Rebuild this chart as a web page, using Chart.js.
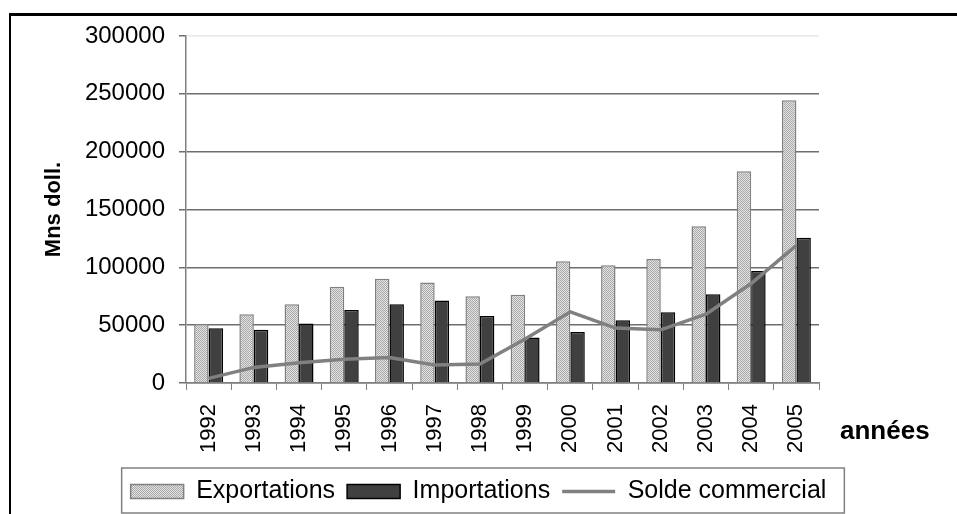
<!DOCTYPE html>
<html>
<head>
<meta charset="utf-8">
<script src="https://cdn.jsdelivr.net/npm/chart.js@4.4.0/dist/chart.umd.min.js"></script>
<style>
  html, body { margin: 0; padding: 0; background: #fff; }
  #wrap { position: relative; width: 957px; height: 514px; overflow: hidden; }
  #frame { position: absolute; left: 9px; top: 13px; width: 960px; height: 520px;
           border-left: 2px solid #000; border-top: 3px solid #000; }
  canvas { position: absolute; left: 0; top: 0; }
</style>
</head>
<body>
<div id="wrap">
  <div id="frame"></div>
  <canvas id="chart" width="957" height="514"></canvas>
</div>
<script>
// Échanges extérieurs, en millions de dollars
const annees = ['1992', '1993', '1994', '1995', '1996', '1997', '1998', '1999', '2000', '2001', '2002', '2003', '2004', '2005'];
const exportations = [51000, 59500, 68000, 83300, 90200, 86800, 75000, 76400, 105200, 101700, 107200, 135600, 183000, 244500];
const importations = [47400, 46000, 51400, 63200, 68100, 71300, 58000, 39400, 44200, 54300, 61200, 76700, 96800, 125600];
const soldeCommercial = [4000, 13500, 17500, 20500, 22000, 15500, 16500, 38000, 61500, 47500, 46000, 59500, 86000, 119000];
const yTicks = [0, 50000, 100000, 150000, 200000, 250000, 300000];

const FONT = "'Liberation Sans', Arial, sans-serif";

// dotted light grey fill, like the old spreadsheet pattern
function makeDots() {
  const c = document.createElement('canvas');
  c.width = 2; c.height = 2;
  const g = c.getContext('2d');
  g.fillStyle = '#e4e4e4';
  g.fillRect(0, 0, 2, 2);
  g.fillStyle = '#a8a8a8';
  g.fillRect(0, 0, 1, 1);
  g.fillRect(1, 1, 1, 1);
  return g.createPattern(c, 'repeat');
}

// frame round the legend
const legendBox = {
  id: 'legendBox',
  afterDraw(chart) {
    const lg = chart.legend;
    if (!lg || !lg.legendHitBoxes.length) return;
    const boxes = lg.legendHitBoxes;
    const first = boxes[0], last = boxes[boxes.length - 1];
    const ctx = chart.ctx;
    ctx.save();
    ctx.strokeStyle = '#808080';
    ctx.lineWidth = 1.5;
    ctx.strokeRect(first.left - 9, lg.top + 1, last.left + last.width + 18 - (first.left - 9), 512 - lg.top);
    ctx.restore();
  }
};

// x axis name sits to the right of the year labels
const xTitle = {
  id: 'xTitle',
  afterDraw(chart) {
    const ctx = chart.ctx;
    ctx.save();
    ctx.font = 'bold 26px ' + FONT;
    ctx.fillStyle = '#000';
    ctx.textAlign = 'left';
    ctx.textBaseline = 'middle';
    ctx.fillText('années', 840, 432);
    ctx.restore();
  }
};

new Chart(document.getElementById('chart'), {
  type: 'bar',
  data: {
    labels: annees,
    datasets: [
      {
        label: 'Exportations',
        data: exportations,
        backgroundColor: makeDots(),
        borderColor: '#808080',
        borderWidth: 1.5,
        categoryPercentage: 0.64,
        barPercentage: 1.0,
        order: 2
      },
      {
        label: 'Importations',
        data: importations,
        backgroundColor: '#404040',
        borderColor: '#000000',
        borderWidth: 1.5,
        categoryPercentage: 0.64,
        barPercentage: 1.0,
        order: 2
      },
      {
        type: 'line',
        label: 'Solde commercial',
        data: soldeCommercial,
        borderColor: '#808080',
        backgroundColor: '#808080',
        borderWidth: 3.5,
        pointRadius: 0,
        tension: 0,
        fill: false,
        order: 1
      }
    ]
  },
  options: {
    responsive: false,
    animation: false,
    layout: { padding: { top: 36, right: 0, left: 0, bottom: 0 } },
    plugins: {
      tooltip: { enabled: false },
      legend: {
        position: 'bottom',
        labels: {
          color: '#000',
          font: { family: FONT, size: 25 },
          usePointStyle: true,
          pointStyleWidth: 53,
          boxHeight: 14,
          padding: 12,
          sort: (a, b) => a.datasetIndex - b.datasetIndex,
          generateLabels(chart) {
            const items = Chart.defaults.plugins.legend.labels.generateLabels(chart);
            items.forEach(it => { it.pointStyle = it.datasetIndex === 2 ? 'line' : 'rect'; });
            return items;
          }
        }
      }
    },
    scales: {
      x: {
        offset: true,
        afterFit(scale) { scale.height = 84; },
        border: { color: '#808080', width: 1.5 },
        grid: { drawOnChartArea: false, drawTicks: true, tickLength: 7, color: '#808080', offset: true },
        ticks: {
          color: '#000',
          font: { family: FONT, size: 22 },
          minRotation: 90,
          maxRotation: 90,
          autoSkip: false,
          padding: 14
        }
      },
      y: {
        min: 0,
        max: 300000,
        afterFit(scale) { scale.width = 186; },
        afterBuildTicks(scale) { scale.ticks = yTicks.map(v => ({ value: v })); },
        border: { color: '#808080', width: 1.5 },
        grid: {
          color: (c) => (c.tick && c.tick.value === 300000 ? '#e8e8e8' : '#6e6e6e'),
          tickColor: '#6e6e6e',
          lineWidth: 1.5,
          tickLength: 7
        },
        ticks: {
          color: '#000',
          font: { family: FONT, size: 24 },
          padding: 14,
          callback: (v) => String(v)
        },
        title: {
          display: true,
          text: 'Mns doll.',
          color: '#000',
          font: { family: FONT, size: 22, weight: 'bold' },
          padding: { top: 41, bottom: 0 }
        }
      },
      // empty right-hand band, keeps room for "années" while the legend stays centred on the page
      spacer: {
        type: 'linear',
        position: 'right',
        display: true,
        afterFit(scale) { scale.width = 138; },
        border: { display: false },
        grid: { display: false },
        ticks: { display: false }
      }
    }
  },
  plugins: [legendBox, xTitle]
});
</script>
</body>
</html>
